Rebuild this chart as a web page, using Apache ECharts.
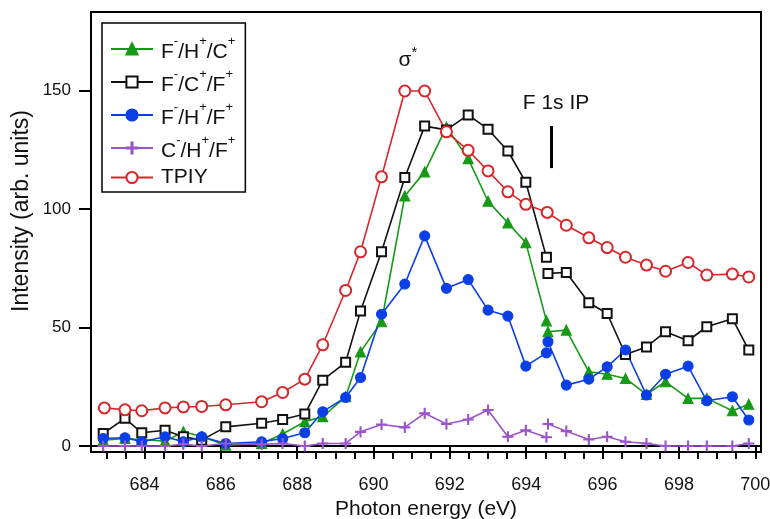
<!DOCTYPE html>
<html>
<head>
<meta charset="utf-8">
<script src="https://cdn.jsdelivr.net/npm/echarts@6/dist/echarts.min.js"></script>
<style>
  html, body { margin: 0; padding: 0; background: #fff; }
  #chart { width: 770px; height: 519px; }
</style>
</head>
<body>
<div id="chart"></div>
<script>
// photon energies of the two scans (break at the F 1s IP)
const scan1X = [682.92, 683.49, 683.93, 684.54, 685.02, 685.50, 686.13, 687.07, 687.62, 688.20, 688.67,
  689.27, 689.66, 690.21, 690.82, 691.34, 691.91, 692.48, 693.00, 693.52, 693.99, 694.53]
const scan2X = [694.57, 695.05, 695.64, 696.12, 696.60, 697.15, 697.65, 698.24, 698.73, 699.40, 699.83]
const tpiyX = [682.95, 683.49, 683.93, 684.54, 685.02, 685.50, 686.13, 687.07, 687.62, 688.20, 688.67,
  689.27, 689.66, 690.21, 690.82, 691.34, 691.91, 692.48, 693.00, 693.52, 693.99, 694.55,
  695.05, 695.64, 696.12, 696.60, 697.15, 697.65, 698.24, 698.73, 699.40, 699.83]

// F-/H+/C+
const fhc1 = [2.5, 3.2, 2.8, 2.0, 6.0, 4.0, 0.4, 1.1, 5.1, 10.3, 12.4, 20.8, 39.7, 52.4, 105.4, 115.6, 134.5, 121.2, 103.2, 94.1, 85.7, 52.8]
const fhc2 = [48.2, 48.9, 31.3, 30.3, 28.5, 21.8, 27.1, 20.1, 20.1, 14.9, 17.6]
// F-/C+/F+
const fcf1 = [5.3, 11.7, 5.6, 6.7, 3.9, 2.5, 8.1, 9.6, 11.2, 13.5, 27.8, 35.3, 56.9, 81.9, 113.2, 134.9, 133.3, 139.6, 133.6, 124.4, 111.2, 79.6]
const fcf2 = [72.8, 73.2, 60.4, 55.9, 38.6, 41.8, 48.2, 44.4, 50.3, 53.7, 40.5]
// F-/H+/F+
const fhf1 = [3.2, 3.5, 1.8, 3.9, 1.8, 3.9, 1.1, 1.8, 3.2, 5.6, 14.5, 20.5, 28.9, 55.6, 68.3, 88.6, 66.5, 70.2, 57.3, 54.8, 33.7, 39.3]
const fhf2 = [44.0, 25.7, 28.2, 33.4, 40.5, 21.5, 30.3, 33.7, 19.1, 20.8, 11.0]
// C-/H+/F+
const chf1 = [0, 0, 0, 0, 0.8, 0, 1.1, 0.7, 1.1, 0, 1.1, 1.1, 6.0, 9.1, 7.9, 13.8, 9.3, 11.2, 15.2, 3.9, 6.7, 3.7]
const chf2 = [9.3, 6.3, 2.8, 3.9, 1.8, 1.1, 0, 0, 0, 0, 1.1]
// TPIY
const tpiy = [16.1, 15.3, 14.9, 16.1, 16.5, 16.7, 17.4, 18.7, 22.6, 28.2, 42.7, 65.6, 81.9, 113.5, 149.7, 149.7,
  132.5, 124.7, 116.0, 107.2, 101.9, 98.5, 93.1, 87.8, 83.7, 79.6, 76.3, 73.7, 77.4, 72.1, 72.5, 71.3]

const xMajorTicks = [684, 686, 688, 690, 692, 694, 696, 698, 700]
const yTicks = [0, 50, 100, 150]
const xMinorTicks = []
for (let v = 683; v <= 700; v += 0.5) xMinorTicks.push(v)

const FONT = 'Liberation Sans, Arial, sans-serif'
const PLUS = 'path://M4.5,0H5.5V4.5H10V5.5H5.5V10H4.5V5.5H0V4.5H4.5Z'

const joinScans = (a, b) => scan1X.map((x, i) => [x, a[i]])
  .concat([[694.55, '-']], scan2X.map((x, i) => [x, b[i]]))

const chart = echarts.init(document.getElementById('chart'))

const lineSeries = (name, data, color, symbol, size, extra) => Object.assign({
  name,
  type: 'line',
  data,
  symbol,
  symbolSize: size,
  showSymbol: true,
  connectNulls: false,
  lineStyle: { color, width: 1.6 },
  itemStyle: { color, borderColor: color, borderWidth: 1.1 },
  emphasis: { disabled: true },
}, extra || {})

const option = {
  backgroundColor: '#fff',
  animation: false,
  grid: {
    left: 91, right: 9, top: 12, bottom: 67,
    containLabel: false,
    outerBoundsMode: 'none',
    show: true, borderColor: '#000', borderWidth: 2,
  },
  xAxis: [
    {
      type: 'value',
      min: 682.6,
      max: 700.15,
      position: 'bottom',
      name: 'Photon energy (eV)',
      nameLocation: 'middle',
      nameGap: 41,
      nameTextStyle: { fontFamily: FONT, fontSize: 21, color: '#111' },
      axisLine: { show: true, lineStyle: { color: '#000', width: 2 } },
      axisTick: { show: true, length: 13, lineStyle: { color: '#000', width: 2 }, customValues: xMajorTicks },
      axisLabel: { fontFamily: FONT, fontSize: 18, color: '#111', margin: 24, customValues: xMajorTicks },
      splitLine: { show: false },
    },
    {
      type: 'value',
      min: 682.6,
      max: 700.15,
      position: 'bottom',
      axisLine: { show: false },
      axisTick: { show: true, length: 7, lineStyle: { color: '#000', width: 2 }, customValues: xMinorTicks },
      axisLabel: { show: false },
      splitLine: { show: false },
    },
  ],
  yAxis: {
    type: 'value',
    min: -2.5,
    max: 183,
    axisLine: { show: true, lineStyle: { color: '#000', width: 2 } },
    axisTick: { show: true, length: 12, lineStyle: { color: '#000', width: 2 }, customValues: yTicks },
    axisLabel: { fontFamily: FONT, fontSize: 17, color: '#111', margin: 20, customValues: yTicks },
    splitLine: { show: false },
  },
  legend: {
    orient: 'vertical',
    left: 102,
    top: 23,
    padding: [12, 10, 4, 8],
    itemGap: 5,
    itemWidth: 42,
    itemHeight: 14,
    borderColor: '#000',
    borderWidth: 1.5,
    backgroundColor: '#fff',
    data: ['F-/H+/C+', 'F-/C+/F+', 'F-/H+/F+', 'C-/H+/F+', 'TPIY'],
    formatter: (name) => {
      if (name.indexOf('/') < 0) return '{t|' + name + '}'
      return name.replace(/([A-Z/]+)([-+]?)/g, (m, a, b) => '{b|' + a + '}' + (b ? '{s|' + b + '}' : ''))
    },
    textStyle: {
      fontFamily: FONT,
      color: '#111',
      padding: [0, 0, 0, 3],
      rich: {
        b: { fontFamily: FONT, fontSize: 21, lineHeight: 28, verticalAlign: 'bottom', color: '#111' },
        s: { fontFamily: FONT, fontSize: 13, lineHeight: 14, verticalAlign: 'top', color: '#111' },
        t: { fontFamily: FONT, fontSize: 21, lineHeight: 20, color: '#111' },
      },
    },
  },
  graphic: [
    {
      type: 'text',
      x: 22,
      y: 211,
      rotation: Math.PI / 2,
      style: {
        text: 'Intensity (arb. units)',
        fontFamily: FONT, fontSize: 23, fill: '#111',
        textAlign: 'center', textVerticalAlign: 'middle',
      },
    },
    {
      type: 'text',
      x: 408,
      y: 58,
      style: {
        text: '{a|σ}{b|*}',
        textAlign: 'center', textVerticalAlign: 'middle',
        rich: {
          a: { fontFamily: FONT, fontSize: 21, fill: '#111', lineHeight: 26, verticalAlign: 'bottom' },
          b: { fontFamily: FONT, fontSize: 15, fill: '#111', lineHeight: 14, verticalAlign: 'top' },
        },
      },
    },
    {
      type: 'text',
      x: 556,
      y: 103,
      style: {
        text: 'F 1s IP',
        fontFamily: FONT, fontSize: 21, fill: '#111',
        textAlign: 'center', textVerticalAlign: 'middle',
      },
    },
  ],
  series: [
    lineSeries('F-/H+/C+', joinScans(fhc1, fhc2), '#169a16', 'triangle', 10),
    lineSeries('F-/C+/F+', joinScans(fcf1, fcf2), '#111111', 'emptyRect', 9),
    lineSeries('F-/H+/F+', joinScans(fhf1, fhf2), '#0b3fe6', 'circle', 10),
    lineSeries('C-/H+/F+', joinScans(chf1, chf2), '#9a55cc', PLUS, 10),
    lineSeries('TPIY', tpiyX.map((x, i) => [x, tpiy[i]]), '#d8262a', 'emptyCircle', 11, {
      markLine: {
        silent: true,
        symbol: 'none',
        label: { show: false },
        lineStyle: { color: '#000', width: 3, type: 'solid' },
        data: [[{ coord: [694.66, 117.2] }, { coord: [694.66, 134.9] }]],
      },
    }),
  ],
}

chart.setOption(option)
</script>
</body>
</html>
